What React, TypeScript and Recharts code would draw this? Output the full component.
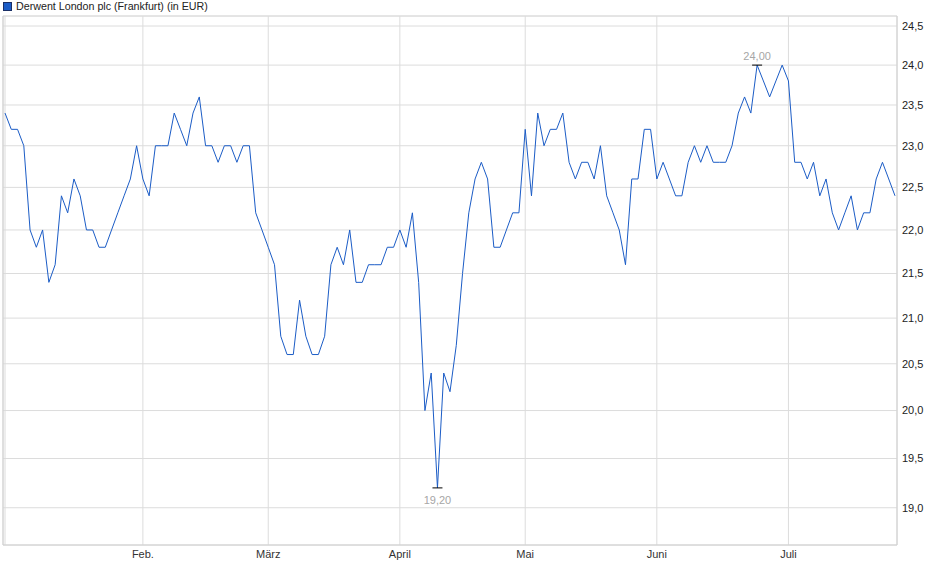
import React from 'react';
import { LineChart, Line, XAxis, YAxis, CartesianGrid } from 'recharts';

// Frankfurt trading days 2025 (weekends and exchange holidays skipped)
const year = 2025;
const holidays = ['2025-01-01', '2025-04-18', '2025-04-21', '2025-05-01'];
const lastDate = '2025-07-24';

// closing prices in EUR, one per trading day, read month by month
const jan = [23.4, 23.2, 23.2, 23.0, 22.0, 21.8, 22.0, 21.4, 21.6, 22.4, 22.2, 22.6, 22.4, 22.0, 22.0, 21.8, 21.8, 22.0, 22.2, 22.4, 22.6, 23.0];
const feb = [22.6, 22.4, 23.0, 23.0, 23.0, 23.4, 23.2, 23.0, 23.4, 23.6, 23.0, 23.0, 22.8, 23.0, 23.0, 22.8, 23.0, 23.0, 22.2, 22.0];
const mar = [21.8, 21.6, 20.8, 20.6, 20.6, 21.2, 20.8, 20.6, 20.6, 20.8, 21.6, 21.8, 21.6, 22.0, 21.4, 21.4, 21.6, 21.6, 21.6, 21.8, 21.8];
const apr = [22.0, 21.8, 22.2, 21.4, 20.0, 20.4, 19.2, 20.4, 20.2, 20.7, 21.5, 22.2, 22.6, 22.8, 22.6, 21.8, 21.8, 22.0, 22.2, 22.2];
const may = [23.2, 22.4, 23.4, 23.0, 23.2, 23.2, 23.4, 22.8, 22.6, 22.8, 22.8, 22.6, 23.0, 22.4, 22.2, 22.0, 21.6, 22.6, 22.6, 23.2, 23.2];
const jun = [22.6, 22.8, 22.6, 22.4, 22.4, 22.8, 23.0, 22.8, 23.0, 22.8, 22.8, 22.8, 23.0, 23.4, 23.6, 23.4, 24.0, 23.8, 23.6, 23.8, 24.0];
const jul = [23.8, 22.8, 22.8, 22.6, 22.8, 22.4, 22.6, 22.2, 22.0, 22.2, 22.4, 22.0, 22.2, 22.2, 22.6, 22.8, 22.6, 22.4];

const monthLabels = ['', 'Feb.', 'März', 'April', 'Mai', 'Juni', 'Juli'];
const yTicks = [19, 19.5, 20, 20.5, 21, 21.5, 22, 22.5, 23, 23.5, 24, 24.5];
const yDomain = [18.63, 24.63];

const seriesName = 'Derwent London plc (Frankfurt) (in EUR)';
const lineColor = '#1b5cc6';
const gridColor = '#dcdcdc';
const font = '"Liberation Sans", Arial, sans-serif';

const pad = (n: number) => String(n).padStart(2, '0');

function tradingDays() {
  const out: string[] = [];
  const d = new Date(Date.UTC(year, 0, 1));
  for (;;) {
    const s = `${d.getUTCFullYear()}-${pad(d.getUTCMonth() + 1)}-${pad(d.getUTCDate())}`;
    if (s > lastDate) break;
    const wd = d.getUTCDay();
    if (wd !== 0 && wd !== 6 && !holidays.includes(s)) out.push(s);
    d.setUTCDate(d.getUTCDate() + 1);
  }
  return out;
}

const dates = tradingDays();
const prices = [...jan, ...feb, ...mar, ...apr, ...may, ...jun, ...jul];
const data = dates.map((date, i) => ({ date, price: prices[i] }));

// first trading day of every month -> vertical grid lines / labels
const monthTicks = dates.filter((d, i) => i === 0 || d.slice(5, 7) !== dates[i - 1].slice(5, 7));

const maxIdx = prices.indexOf(Math.max(...prices));
const minIdx = prices.indexOf(Math.min(...prices));

const fmt1 = (v: number) => v.toFixed(1).replace('.', ',');
const fmt2 = (v: number) => v.toFixed(2).replace('.', ',');

const ExtremeDot = (props: any) => {
  const { cx, cy, index } = props;
  if (index !== maxIdx && index !== minIdx) return <g key={`d${index}`} />;
  const isMax = index === maxIdx;
  return (
    <g key={`d${index}`}>
      <line x1={cx - 5} x2={cx + 5} y1={cy} y2={cy} stroke="#000" strokeWidth={1} />
      <text
        x={cx}
        y={isMax ? cy - 5 : cy + 16}
        textAnchor="middle"
        fontSize={11}
        fontFamily={font}
        fill="#a6a6a6"
      >
        {fmt2(prices[index])}
      </text>
    </g>
  );
};

const App = () => {
  return (
    <div style={{ position: 'absolute', left: 0, top: 0, width: 940, height: 579, background: '#fff' }}>
      <div
        style={{
          position: 'absolute',
          left: 3,
          top: 0,
          height: 12,
          display: 'flex',
          alignItems: 'center',
          fontFamily: font,
          fontSize: 10.7,
          color: '#222',
          zIndex: 2,
        }}
      >
        <span
          style={{
            display: 'inline-block',
            width: 7,
            height: 7,
            background: lineColor,
            border: '1px solid #1a2f66',
            marginRight: 4,
          }}
        />
        {seriesName}
      </div>
      <LineChart width={940} height={579} data={data} margin={{ top: 16, right: 0, bottom: 4, left: 0 }}>
        <CartesianGrid yAxisId="right" stroke={gridColor} />
        <CartesianGrid
          yAxisId="right"
          stroke={gridColor}
          vertical={false}
          horizontalCoordinatesGenerator={(p: any) => [p.offset.top]}
        />
        <XAxis
          dataKey="date"
          type="category"
          ticks={monthTicks}
          interval={0}
          tickFormatter={(d: string) => monthLabels[Number(d.slice(5, 7)) - 1]}
          tickLine={false}
          tickSize={0}
          tickMargin={5}
          height={30}
          padding={{ left: 2, right: 2 }}
          axisLine={{ stroke: '#d0d0d0' }}
          tick={{ fontSize: 11, fill: '#333', fontFamily: font }}
        />
        <YAxis yAxisId="left" orientation="left" width={3} tick={false} tickLine={false} axisLine={{ stroke: '#d0d0d0' }} />
        <YAxis
          yAxisId="right"
          orientation="right"
          width={43}
          type="number"
          scale="log"
          domain={yDomain}
          allowDataOverflow
          ticks={yTicks}
          interval={0}
          tickFormatter={fmt1}
          tickLine={false}
          tickSize={0}
          tickMargin={5}
          axisLine={{ stroke: '#d0d0d0' }}
          tick={{ fontSize: 11, fill: '#222', fontFamily: font }}
        />
        <Line
          yAxisId="right"
          type="linear"
          dataKey="price"
          stroke={lineColor}
          strokeWidth={1}
          dot={ExtremeDot}
          activeDot={false}
          isAnimationActive={false}
        />
      </LineChart>
    </div>
  );
};

export default App;
